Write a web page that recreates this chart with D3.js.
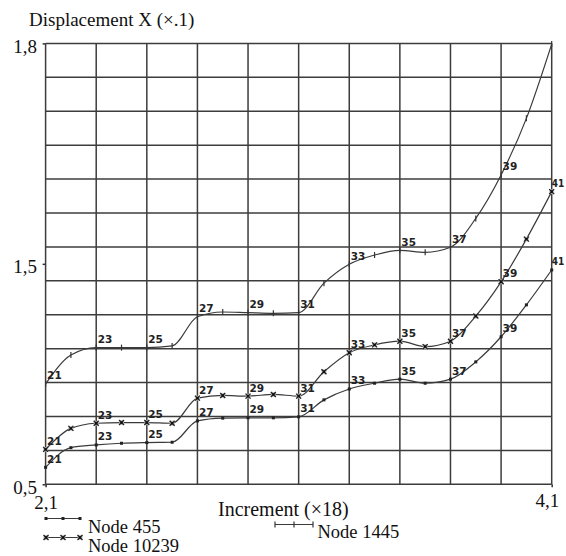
<!DOCTYPE html>
<html>
<head>
<meta charset="utf-8">
<script src="https://cdn.jsdelivr.net/npm/d3@7"></script>
<style>
  html, body { margin: 0; padding: 0; background: #fff; }
  svg { display: block; }
  .pt { font-family: "DejaVu Sans", sans-serif; font-weight: bold; font-size: 10.5px; fill: #222; }
</style>
</head>
<body>
<svg id="chart" width="566" height="556"></svg>
<script>
// Load increments (x-axis values are increment / 10)
const increments = [21, 22, 23, 24, 25, 26, 27, 28, 29, 30, 31, 32, 33, 34, 35, 36, 37, 38, 39, 40, 41];

// Displacement X (×.1) per node
const node455   = [0.550, 0.608, 0.616, 0.621, 0.623, 0.624, 0.687, 0.695, 0.696, 0.696, 0.699,
                   0.749, 0.781, 0.798, 0.810, 0.798, 0.810, 0.861, 0.935, 1.029, 1.132];
const node10239 = [0.603, 0.665, 0.680, 0.682, 0.682, 0.680, 0.754, 0.762, 0.760, 0.765, 0.760,
                   0.832, 0.888, 0.911, 0.922, 0.906, 0.922, 0.996, 1.097, 1.223, 1.363];
const node1445  = [0.796, 0.881, 0.903, 0.903, 0.903, 0.908, 0.994, 1.008, 1.006, 1.004, 1.006,
                   1.093, 1.149, 1.176, 1.190, 1.184, 1.199, 1.284, 1.412, 1.579, 1.798];

// Increments annotated along each curve
const labels455   = [21, 23, 25, 27, 29, 31, 33, 35, 37, 39, 41];
const labels10239 = [21, 23, 25, 27, 29, 31, 33, 35, 37, 39, 41];
const labels1445  = [21, 23, 25, 27, 29, 31, 33, 35, 37, 39];

// Axis ticks
const xTickValues = [2.1, 4.1];
const xTickLabels = ["2,1", "4,1"];
const yTickValues = [0.5, 1.15, 1.8];
const yTickLabels = ["0,5", "1,5", "1,8"];
const xGrid = d3.range(0, 11).map(i => +(2.1 + i * 0.2).toFixed(2));
const yGrid = d3.range(0, 14).map(i => +(0.5 + i * 0.1).toFixed(2));

const SERIF = "'Liberation Serif', 'Times New Roman', Times, serif";

const svg = d3.select("#chart");
const L = 45.6, R = 551.7, T = 43.4, B = 484.3;

const x = d3.scaleLinear().domain([2.1, 4.1]).range([L, R]);
const y = d3.scaleLinear().domain([0.5, 1.8]).range([B, T]);

function serifText(tx, ty, size, str, anchor) {
  return svg.append("text")
    .attr("x", tx).attr("y", ty)
    .attr("text-anchor", anchor || "start")
    .attr("fill", "#111")
    .style("font-family", SERIF)
    .style("font-size", size + "px")
    .text(str);
}

// Grid
const grid = svg.append("g").attr("stroke", "#3c3c3c").attr("stroke-width", 1.5);
grid.selectAll("line.v").data(xGrid).join("line")
  .attr("x1", d => x(d)).attr("x2", d => x(d)).attr("y1", T).attr("y2", B);
grid.selectAll("line.h").data(yGrid).join("line")
  .attr("x1", L).attr("x2", R).attr("y1", d => y(d)).attr("y2", d => y(d));

// Axes (short outer ticks, labels placed separately)
const yAxis = d3.axisLeft(y).tickValues(yTickValues).tickSize(3).tickFormat("");
svg.append("g").attr("transform", `translate(${L},0)`).call(yAxis)
  .call(g => g.select(".domain").remove())
  .selectAll("line").attr("stroke", "#333").attr("stroke-width", 1.5);
const xAxis = d3.axisBottom(x).tickValues(xTickValues).tickSize(3).tickFormat("");
svg.append("g").attr("transform", `translate(0,${B})`).call(xAxis)
  .call(g => g.select(".domain").remove())
  .selectAll("line").attr("stroke", "#333").attr("stroke-width", 1.5);

yTickValues.forEach((v, i) => serifText(37, y(v) + 9.5, 19, yTickLabels[i], "end"));
serifText(x(xTickValues[0]) + 0.5, 509, 19, xTickLabels[0], "middle");
serifText(x(xTickValues[1]) + 7.5, 507, 19, xTickLabels[1], "end");

serifText(29, 26, 19, "Displacement X (×.1)");
serifText(218, 516, 20, "Increment (×18)");

// Marker shapes
function dotMarker(g, px, py) {
  g.append("rect").attr("x", px - 1.5).attr("y", py - 1.5).attr("width", 3).attr("height", 3)
    .attr("fill", "#222");
}
function starMarker(g, px, py) {
  g.append("rect").attr("x", px - 2.5).attr("y", py - 2.5).attr("width", 5).attr("height", 5)
    .attr("fill", "#bbb").attr("opacity", 0.8);
  g.append("path").attr("d", `M${px-2.5},${py-2.5}L${px+2.5},${py+2.5}M${px+2.5},${py-2.5}L${px-2.5},${py+2.5}`)
    .attr("stroke", "#222").attr("stroke-width", 1.3);
  g.append("rect").attr("x", px - 1.2).attr("y", py - 1.2).attr("width", 2.4).attr("height", 2.4)
    .attr("fill", "#111");
}
function plusMarker(g, px, py) {
  g.append("line").attr("x1", px).attr("x2", px).attr("y1", py - 3).attr("y2", py + 3)
    .attr("stroke", "#333").attr("stroke-width", 1.2);
}

const series = [
  { name: "Node 455",   values: node455,   labels: labels455,   marker: dotMarker },
  { name: "Node 10239", values: node10239, labels: labels10239, marker: starMarker },
  { name: "Node 1445",  values: node1445,  labels: labels1445,  marker: plusMarker }
];

const line = d3.line()
  .x(d => x(d.inc / 10))
  .y(d => y(d.v))
  .curve(d3.curveMonotoneX);

const lastInc = increments[increments.length - 1];

series.forEach(s => {
  const pts = increments.map((inc, i) => ({ inc, v: s.values[i] }));
  const g = svg.append("g");
  g.append("path").datum(pts).attr("d", line)
    .attr("fill", "none").attr("stroke", "#3a3a3a").attr("stroke-width", 1.2);
  pts.forEach(p => s.marker(g, x(p.inc / 10), y(p.v)));
  g.selectAll("text").data(pts.filter(p => s.labels.includes(p.inc))).join("text")
    .attr("class", "pt")
    .attr("x", p => x(p.inc / 10) + (p.inc === lastInc ? 0 : 1.5))
    .attr("y", p => y(p.v) - 4.5)
    .attr("textLength", p => p.inc === lastInc ? 12.5 : null)
    .attr("lengthAdjust", "spacingAndGlyphs")
    .text(p => p.inc);
});

// Legend
function legendLine(x0, x1, yy, marker) {
  const g = svg.append("g");
  g.append("line").attr("x1", x0).attr("x2", x1).attr("y1", yy).attr("y2", yy)
    .attr("stroke", "#3a3a3a").attr("stroke-width", 1.2);
  [x0, (x0 + x1) / 2, x1].forEach(px => marker(g, px, yy));
}
legendLine(46, 80, 518.5, dotMarker);
serifText(88, 533, 18.5, series[0].name);
legendLine(46, 80, 537.5, starMarker);
serifText(88, 551.5, 18.5, series[1].name);
legendLine(275, 313, 524.5, plusMarker);
serifText(317.5, 537.5, 18.5, series[2].name);
</script>
</body>
</html>
